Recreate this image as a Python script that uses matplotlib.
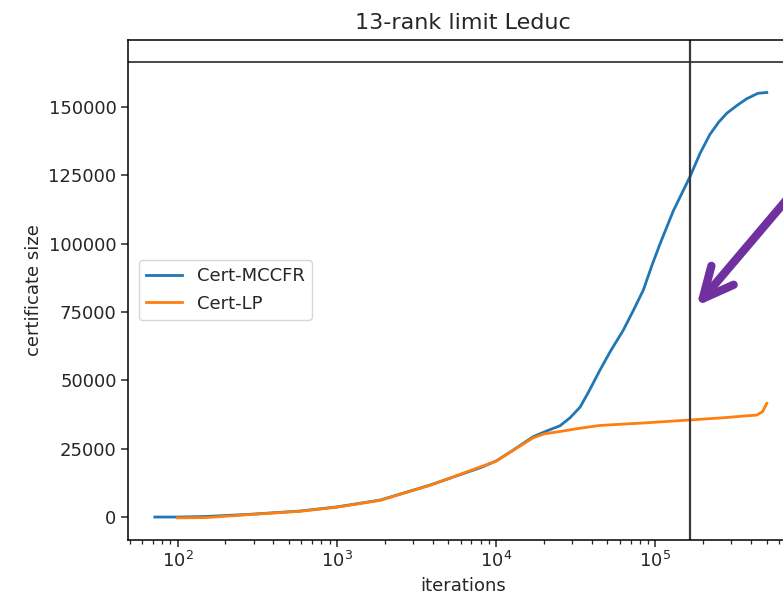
import matplotlib
matplotlib.use("Agg")
import matplotlib.pyplot as plt
from matplotlib.patches import FancyArrowPatch

# ---- data ----
mccfr_iters = [72, 100, 150, 285, 588, 1000, 1870, 3850, 7920, 10000, 12800, 17100,
               21000, 25200, 29100, 33650, 38000, 44900, 52000, 62900, 73000, 83900,
               95000, 107000, 129500, 164800, 190500, 220000, 250000, 280500, 324000,
               374000, 440000, 500000]
mccfr_size = [0, 0, 200, 1000, 2200, 3700, 6200, 11700, 18000, 20500, 24500, 29400,
              31600, 33400, 36300, 40200, 45700, 53800, 60500, 68400, 75800, 83000,
              92000, 100000, 112000, 124500, 133000, 140000, 144500, 147700, 150500,
              153000, 155000, 155300]

lp_iters = [100, 150, 285, 588, 1000, 1870, 3850, 7920, 10000, 12800, 17100, 20000,
            25200, 33650, 44900, 62900, 83900, 120000, 164800, 220000, 280000, 350000,
            432500, 470000, 500000]
lp_size = [-300, -200, 900, 2100, 3600, 6100, 11600, 18300, 20400, 24400, 29000, 30400,
           31300, 32500, 33500, 34000, 34400, 35000, 35500, 36000, 36400, 36900,
           37300, 38500, 41600]

marker_iter = 164800      # vertical line
box_line_value = 166500   # horizontal line near top

title = "13-rank limit Leduc"
xlabel = "iterations"
ylabel = "certificate size"
yticks = [0, 25000, 50000, 75000, 100000, 125000, 150000]

# ---- style ----
txt = "#262626"
plt.rcParams.update({
    "font.family": ["DejaVu Sans"],
    "font.size": 13,
    "text.color": txt,
    "axes.labelcolor": txt,
    "xtick.color": txt,
    "ytick.color": txt,
    "xtick.major.size": 4.7,
    "ytick.major.size": 4.7,
    "xtick.minor.size": 2.7,
    "xtick.major.width": 1.1,
    "ytick.major.width": 1.1,
    "xtick.minor.width": 0.9,
    "axes.linewidth": 1.1,
})

W, H = 783, 598
fig = plt.figure(figsize=(W / 100, H / 100), dpi=100)
ax = fig.add_axes([128 / W, (H - 540) / H, 670 / W, 500 / H])

ax.plot(mccfr_iters, mccfr_size, color="#1f77b4", lw=2.0, label="Cert-MCCFR")
ax.plot(lp_iters, lp_size, color="#ff7f0e", lw=2.0, label="Cert-LP")
ax.set_xscale("log")
ax.set_xlim(10 ** 1.689, 10 ** 5.895)
ax.set_ylim(-8400, 174500)
ax.set_yticks(yticks)
ax.set_yticklabels([str(v) for v in yticks])

ax.axvline(marker_iter, color="#3a3a3a", lw=1.6)
ax.axhline(box_line_value, color="#2a2a2a", lw=1.2)

ax.set_title(title, fontsize=16, pad=8)
ax.set_xlabel(xlabel, fontsize=13)
ax.set_ylabel(ylabel, fontsize=13)
ax.legend(loc="center left", fontsize=13, handlelength=2.0, borderaxespad=0.6)

# purple annotation arrow (figure coordinates)
tip = (696.5 / W, (H - 306) / H)
tail = (800 / W, (H - 184) / H)
arrow = FancyArrowPatch(tail, tip, transform=fig.transFigure,
                        arrowstyle="->,head_length=2.2,head_width=1.05",
                        mutation_scale=10, lw=6, color="#7030A0",
                        shrinkA=0, shrinkB=0,
                        capstyle="round", joinstyle="round")
fig.patches.append(arrow)

fig.savefig("out.png", dpi=100)
